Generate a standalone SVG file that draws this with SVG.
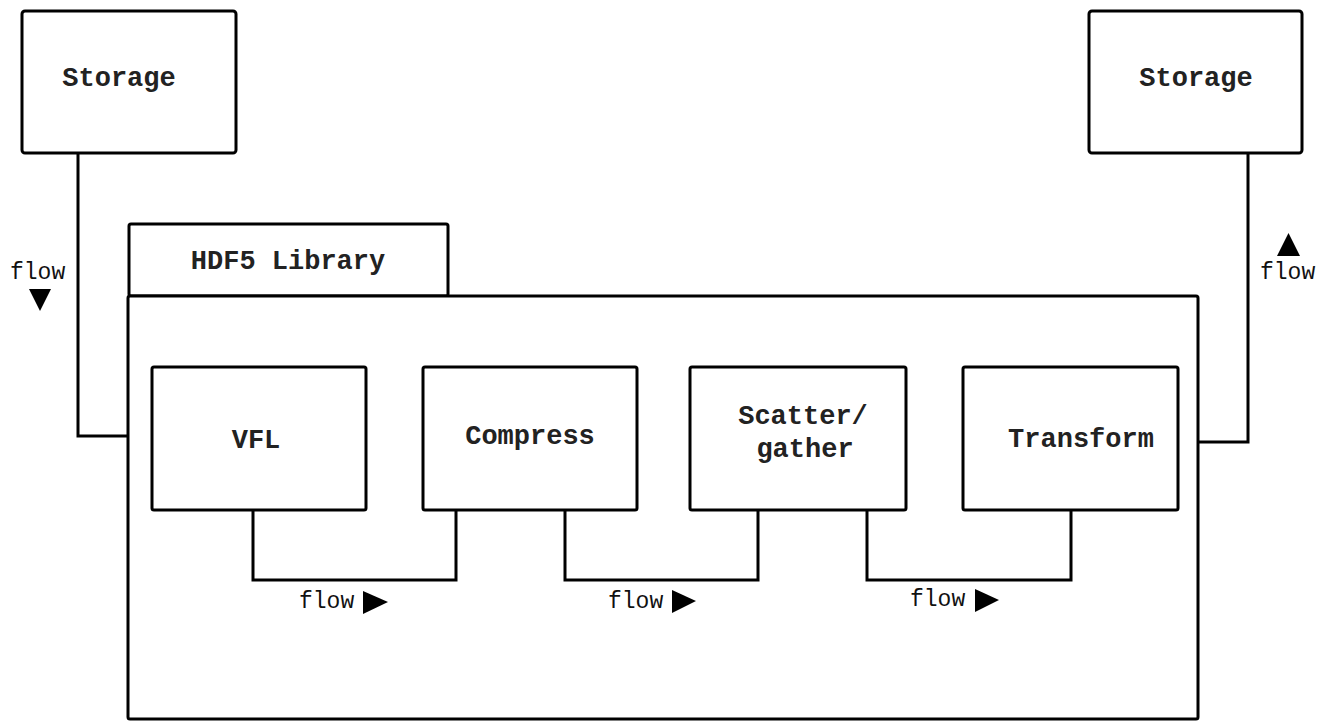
<svg xmlns="http://www.w3.org/2000/svg" width="1325" height="722" viewBox="0 0 1325 722">
<style>
.box{fill:#fff;stroke:#000;stroke-width:3}
.lbl{font-family:"Liberation Mono","Courier New",monospace;font-weight:bold;font-size:27px;fill:#222;text-anchor:middle}
.flow{font-family:"Liberation Mono","Courier New",monospace;font-size:23px;fill:#111}
.wire{fill:none;stroke:#000;stroke-width:3}
.tri{fill:#000}
</style>
<rect width="1325" height="722" fill="#fff"/>
<g id="library">
<rect class="box" x="129" y="224" width="319" height="72" rx="2"/>
<rect class="box" x="128" y="296" width="1070" height="423" rx="2"/>
<text class="lbl" x="288" y="269">HDF5 Library</text>
</g>
<g id="storage-left">
<rect class="box" x="22" y="11" width="214" height="142" rx="3"/>
<text class="lbl" x="119" y="86">Storage</text>
</g>
<g id="storage-right">
<rect class="box" x="1089" y="11" width="213" height="142" rx="3"/>
<text class="lbl" x="1196" y="86">Storage</text>
</g>
<g id="vfl">
<rect class="box" x="152" y="367" width="214" height="143" rx="2"/>
<text class="lbl" x="256" y="448">VFL</text>
</g>
<g id="compress">
<rect class="box" x="423" y="367" width="214" height="143" rx="2"/>
<text class="lbl" x="530" y="444">Compress</text>
</g>
<g id="scatter">
<rect class="box" x="690" y="367" width="216" height="143" rx="2"/>
<text class="lbl" x="803" y="424">Scatter/</text>
<text class="lbl" x="805" y="457">gather</text>
</g>
<g id="transform">
<rect class="box" x="963" y="367" width="215" height="143" rx="2"/>
<text class="lbl" x="1081" y="447">Transform</text>
</g>
<g id="connectors">
<polyline class="wire" points="78,153 78,436 128,436"/>
<polyline class="wire" points="1248,153 1248,442 1198,442"/>
<polyline class="wire" points="253,510 253,580 456,580 456,510"/>
<polyline class="wire" points="565,510 565,580 758,580 758,510"/>
<polyline class="wire" points="867,510 867,580 1071,580 1071,510"/>
<text class="flow" x="10" y="279">flow</text>
<polygon class="tri" points="29,289 51,289 40,311"/>
<text class="flow" x="1260" y="279">flow</text>
<polygon class="tri" points="1277,256 1300,256 1288.5,233"/>
<text class="flow" x="299" y="608">flow</text>
<polygon class="tri" points="363,591 388,602 363,614"/>
<text class="flow" x="608" y="608">flow</text>
<polygon class="tri" points="672,590 696,601 672,613"/>
<text class="flow" x="910" y="606">flow</text>
<polygon class="tri" points="975,589 999,600 975,612"/>
</g>
</svg>
